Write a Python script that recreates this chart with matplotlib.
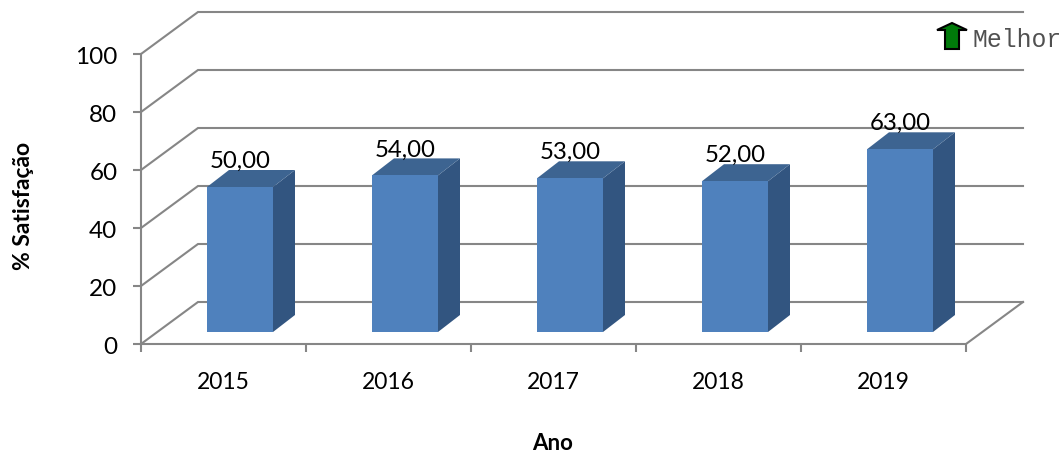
import numpy as np
import matplotlib
matplotlib.use("Agg")
import matplotlib.pyplot as plt
from matplotlib.patches import Polygon
from matplotlib.transforms import ScaledTranslation

years = ["2015", "2016", "2017", "2018", "2019"]
satisfaction = [50, 54, 53, 52, 63]
y_ticks = [0, 20, 40, 60, 80, 100]

plt.rcParams['font.family'] = ['Lato', 'DejaVu Sans']

W, H = 1062, 453
fig = plt.figure(figsize=(W / 100, H / 100), dpi=100)
ax = fig.add_axes([141 / W, (H - 344) / H, 825 / W, 290 / H])
ax.set_xlim(0, len(years))
ax.set_ylim(0, 100)
for s in ax.spines.values():
    s.set_visible(False)

grid_col = '#868686'
lw = 1.5
# depth of the 3d box, in data units
dx = 57 / 165
dy = 42 / 2.9

# back wall lines + left wall slants
for v in y_ticks:
    ax.plot([0, dx, len(years) + dx], [v, v + dy, v + dy], color=grid_col, lw=lw,
            clip_on=False, zorder=1, solid_joinstyle='miter')
ax.plot([len(years), len(years) + dx], [0, dy], color=grid_col, lw=lw, clip_on=False, zorder=1)

# axes lines and ticks
ax.plot([0, 0], [0, 100], color=grid_col, lw=lw, clip_on=False, zorder=2)
ax.plot([0, len(years)], [0, 0], color=grid_col, lw=lw, clip_on=False, zorder=2)
ax.set_xticks(np.arange(len(years) + 1))
ax.set_xticklabels([])
ax.set_yticks(y_ticks)
ax.set_yticklabels([str(v) for v in y_ticks], fontsize=17.5, color='black')
ax.tick_params(axis='y', length=6, width=lw, color=grid_col, pad=11)
ax.tick_params(axis='x', length=6, width=lw, color=grid_col)
# nudge the y labels down a bit
nudge = ScaledTranslation(0, -2 / 100, fig.dpi_scale_trans)
for lab in ax.get_yticklabels():
    lab.set_transform(lab.get_transform() + nudge)

# bars: front, top and side faces
bar_w = 0.4
bar_left = 0.4
bar_dx = 22 / 165
bar_dy = 17 / 2.9
base = 12 / 2.9
for i, val in enumerate(satisfaction):
    x0 = i + bar_left
    x1 = x0 + bar_w
    top = val + base
    ax.add_patch(Polygon([(x1, base), (x1 + bar_dx, base + bar_dy), (x1 + bar_dx, top + bar_dy), (x1, top)],
                         closed=True, fc='#325580', ec='none', clip_on=False, zorder=3))
    ax.add_patch(Polygon([(x0, top), (x1, top), (x1 + bar_dx, top + bar_dy), (x0 + bar_dx, top + bar_dy)],
                         closed=True, fc='#3D6491', ec='none', clip_on=False, zorder=3))
    ax.add_patch(Polygon([(x0, base), (x1, base), (x1, top), (x0, top)],
                         closed=True, fc='#4F81BD', ec='none', clip_on=False, zorder=4))
    ax.text(x0 + bar_w / 2, top + 8.8, f"{val},00", ha='center', va='center', fontsize=17.3,
            color='black', zorder=5, clip_on=False)
    ax.text(i + 0.5, -13.2, years[i], ha='center', va='center', fontsize=16.5, color='black', clip_on=False)

# axis titles
fig.text(24 / W, 1 - 206 / H, "% Satisfação", rotation=90, ha='center', va='center',
         fontsize=16.5, fontweight='bold')
fig.text(553 / W, 1 - 443.5 / H, "Ano", ha='center', va='center', fontsize=16, fontweight='bold')

# "better" arrow
arrow = [(952, 23), (967, 30), (959, 30), (959, 49), (945, 49), (945, 30), (937, 30)]
fig.add_artist(Polygon([(px / W, 1 - py / H) for px, py in arrow], closed=True, fc='#007A0A', ec='black',
                       lw=1.5, transform=fig.transFigure, joinstyle='miter'))
fig.text(973 / W, 1 - 40 / H, "Melhor", family='Liberation Mono', fontsize=17.8, color='#505050',
         ha='left', va='center')

fig.savefig("out.png", dpi=100)
